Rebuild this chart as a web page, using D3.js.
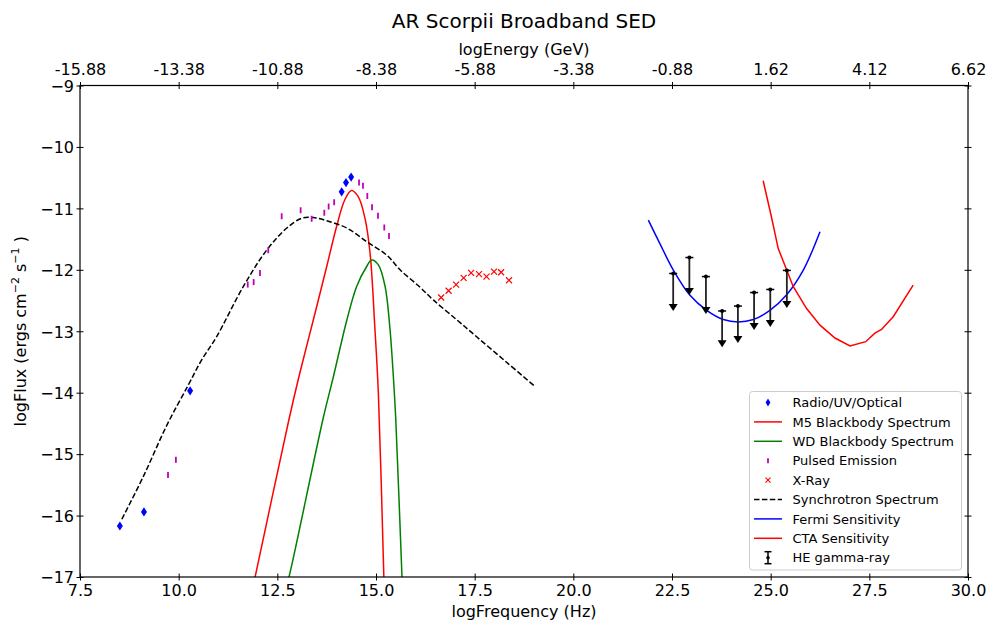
<!DOCTYPE html>
<html>
<head>
<meta charset="utf-8">
<script src="https://cdn.jsdelivr.net/npm/d3@7"></script>
<style>
  body { margin: 0; background: #fff; }
  text { font-family: "DejaVu Sans", sans-serif; }
</style>
</head>
<body>
<div id="chart"></div>
<script>
// ---- data ----
var radio_x = [8.51, 9.12, 10.29, 14.13, 14.24, 14.37];
var radio_y = [-16.17, -15.94, -13.97, -10.73, -10.58, -10.49];

var pulsed_x = [9.73, 9.93, 11.75, 11.90, 12.06, 12.27, 12.61, 13.09, 13.37, 13.69, 13.80, 13.94, 14.57, 14.67, 14.78, 14.90, 15.05, 15.21, 15.33];
var pulsed_y = [-15.34, -15.09, -12.24, -12.20, -12.05, -11.68, -11.13, -11.03, -11.17, -11.07, -10.97, -10.90, -10.58, -10.63, -10.80, -10.98, -11.12, -11.31, -11.45];

var xray_x = [16.65, 16.84, 17.03, 17.22, 17.41, 17.61, 17.80, 17.99, 18.17, 18.37];
var xray_y = [-12.45, -12.34, -12.24, -12.13, -12.05, -12.07, -12.11, -12.03, -12.04, -12.17];

var m5_x = [11.80, 11.93, 12.80, 13.07, 13.41, 13.75, 14.00, 14.21, 14.38, 14.55, 14.72, 14.85, 14.97, 15.06, 15.20, 15.22];
var m5_y = [-17.40, -17.02, -14.42, -13.68, -12.82, -11.95, -11.30, -10.86, -10.71, -10.81, -11.16, -11.73, -12.93, -14.01, -17.02, -17.40];

var wd_x = [12.67, 12.80, 13.66, 13.92, 14.26, 14.51, 14.76, 14.89, 15.06, 15.23, 15.35, 15.44, 15.50, 15.66, 15.68];
var wd_y = [-17.30, -16.99, -14.42, -13.74, -12.82, -12.27, -11.95, -11.84, -11.92, -12.27, -12.93, -13.74, -14.42, -17.02, -17.30];

var sync_x = [8.56, 9.10, 9.70, 10.24, 10.58, 10.96, 11.64, 12.23, 12.74, 13.12, 13.41, 13.75, 14.26, 14.76, 15.27, 15.61, 16.11, 16.45, 17.04, 17.55, 18.30, 19.03];
var sync_y = [-16.06, -15.37, -14.53, -13.88, -13.47, -13.09, -12.27, -11.68, -11.32, -11.16, -11.15, -11.20, -11.32, -11.54, -11.76, -12.00, -12.28, -12.49, -12.81, -13.09, -13.50, -13.90];

var fermi_x = [21.90, 22.19, 22.53, 22.95, 23.38, 23.80, 24.18, 24.56, 24.98, 25.40, 25.83, 26.25];
var fermi_y = [-11.19, -11.57, -12.00, -12.41, -12.66, -12.81, -12.85, -12.81, -12.66, -12.41, -12.00, -11.38];

var cta_x = [24.81, 25.02, 25.19, 25.57, 25.91, 26.25, 26.63, 27.01, 27.41, 27.64, 27.81, 28.11, 28.61];
var cta_y = [-10.55, -11.14, -11.65, -12.27, -12.63, -12.90, -13.11, -13.24, -13.17, -13.03, -12.97, -12.76, -12.25];

var he_x    = [22.53, 22.94, 23.36, 23.77, 24.17, 24.58, 24.99, 25.41];
var he_y    = [-12.06, -11.80, -12.11, -12.67, -12.59, -12.37, -12.32, -12.01];
var he_low  = [-12.67, -12.41, -12.72, -13.26, -13.19, -12.98, -12.93, -12.62];

var x_ticks = [7.5, 10.0, 12.5, 15.0, 17.5, 20.0, 22.5, 25.0, 27.5, 30.0];
var top_labels = ['-15.88', '-13.38', '-10.88', '-8.38', '-5.88', '-3.38', '-0.88', '1.62', '4.12', '6.62'];
var y_ticks = [-9, -10, -11, -12, -13, -14, -15, -16, -17];

var legend_labels = ['Radio/UV/Optical', 'M5 Blackbody Spectrum', 'WD Blackbody Spectrum', 'Pulsed Emission',
	'X-Ray', 'Synchrotron Spectrum', 'Fermi Sensitivity', 'CTA Sensitivity', 'HE gamma-ray'];

// ---- layout ----
var chart_width  = 990;
var chart_height = 626;
var plot_left = 80, plot_right = 968, plot_top = 85.5, plot_bottom = 577;

var svg = d3.select('#chart')
	.append('svg')
	.attr('width', chart_width)
	.attr('height', chart_height);

var x_scale = d3.scaleLinear().domain([7.5, 30]).range([plot_left, plot_right]);
var y_scale = d3.scaleLinear().domain([-17, -9]).range([plot_bottom, plot_top]);

svg.append('clipPath').attr('id', 'clip')
	.append('rect')
	.attr('x', plot_left).attr('y', plot_top)
	.attr('width', plot_right - plot_left).attr('height', plot_bottom - plot_top);

var plot = svg.append('g').attr('clip-path', 'url(#clip)');

function pairs(xs, ys) {
	return xs.map(function(d, i){ return [d, ys[i]]; });
}

function draw_line(xs, ys, color, dash, curve) {
	var line = d3.line()
		.x(function(d){ return x_scale(d[0]); })
		.y(function(d){ return y_scale(d[1]); })
		.curve(curve || d3.curveLinear);
	plot.append('path')
		.datum(pairs(xs, ys))
		.attr('d', line)
		.attr('fill', 'none')
		.attr('stroke', color)
		.attr('stroke-width', 1.5)
		.attr('stroke-dasharray', dash || null);
}

var smooth = d3.curveCatmullRom.alpha(0.5);
draw_line(m5_x, m5_y, '#ff0000', null, smooth);
draw_line(wd_x, wd_y, '#008000', null, smooth);
draw_line(sync_x, sync_y, '#000000', '5.5,2.4', smooth);
draw_line(fermi_x, fermi_y, '#0000ff', null, smooth);
draw_line(cta_x, cta_y, '#ff0000');

// radio diamonds
var diamond = 'M0,-4.6L3,0L0,4.6L-3,0Z';
plot.selectAll('.radio')
	.data(pairs(radio_x, radio_y))
	.enter()
	.append('path')
	.attr('class', 'radio')
	.attr('d', diamond)
	.attr('transform', function(d){ return 'translate(' + x_scale(d[0]) + ',' + y_scale(d[1]) + ')'; })
	.attr('fill', '#0000ff');

// pulsed emission '|' markers
plot.selectAll('.pulsed')
	.data(pairs(pulsed_x, pulsed_y))
	.enter()
	.append('line')
	.attr('class', 'pulsed')
	.attr('x1', function(d){ return x_scale(d[0]); })
	.attr('x2', function(d){ return x_scale(d[0]); })
	.attr('y1', function(d){ return y_scale(d[1]) - 3; })
	.attr('y2', function(d){ return y_scale(d[1]) + 3; })
	.attr('stroke', '#bf00bf')
	.attr('stroke-width', 1.8);

// x-ray 'x' markers
var cross = 'M-3,-3L3,3M-3,3L3,-3';
plot.selectAll('.xray')
	.data(pairs(xray_x, xray_y))
	.enter()
	.append('path')
	.attr('class', 'xray')
	.attr('d', cross)
	.attr('transform', function(d){ return 'translate(' + x_scale(d[0]) + ',' + y_scale(d[1]) + ')'; })
	.attr('stroke', '#ff0000')
	.attr('stroke-width', 1.2)
	.attr('fill', 'none');

// HE gamma-ray upper limits
var he = plot.selectAll('.he')
	.data(he_x.map(function(d, i){ return { x: d, y: he_y[i], low: he_low[i] }; }))
	.enter()
	.append('g')
	.attr('class', 'he');

he.append('line')
	.attr('x1', function(d){ return x_scale(d.x); })
	.attr('x2', function(d){ return x_scale(d.x); })
	.attr('y1', function(d){ return y_scale(d.y); })
	.attr('y2', function(d){ return y_scale(d.low) - 4; })
	.attr('stroke', '#222')
	.attr('stroke-width', 1.8);
he.append('line')
	.attr('x1', function(d){ return x_scale(d.x) - 4; })
	.attr('x2', function(d){ return x_scale(d.x) + 4; })
	.attr('y1', function(d){ return y_scale(d.y); })
	.attr('y2', function(d){ return y_scale(d.y); })
	.attr('stroke', '#000')
	.attr('stroke-width', 1.5);
he.append('circle')
	.attr('cx', function(d){ return x_scale(d.x); })
	.attr('cy', function(d){ return y_scale(d.y); })
	.attr('r', 2)
	.attr('fill', '#000');
he.append('path')
	.attr('d', function(d){
		var px = x_scale(d.x), py = y_scale(d.low);
		return 'M' + (px - 4.5) + ',' + (py - 7) + 'L' + (px + 4.5) + ',' + (py - 7) + 'L' + px + ',' + py + 'Z';
	})
	.attr('fill', '#000');

// ---- axes ----
function inout(g, horizontal) {
	g.selectAll('.tick line')
		.attr(horizontal ? 'y1' : 'x1', -3.5)
		.attr(horizontal ? 'y2' : 'x2', 3.5)
		.attr('stroke', '#000')
		.attr('stroke-width', 1);
	g.select('.domain').remove();
	g.selectAll('text').attr('font-family', '"DejaVu Sans", sans-serif').attr('font-size', 16).attr('fill', '#000');
}

var x_axis_bottom = svg.append('g')
	.attr('transform', 'translate(0,' + plot_bottom + ')')
	.call(d3.axisBottom(x_scale).tickValues(x_ticks).tickFormat(d3.format('.1f')).tickSizeOuter(0));
inout(x_axis_bottom, true);
x_axis_bottom.selectAll('text').attr('y', 8).attr('dy', '0.71em');

var x_axis_top = svg.append('g')
	.attr('transform', 'translate(0,' + plot_top + ')')
	.call(d3.axisTop(x_scale).tickValues(x_ticks).tickFormat(function(d, i){ return top_labels[i]; }).tickSizeOuter(0));
inout(x_axis_top, true);
x_axis_top.selectAll('text').attr('y', -10.5).attr('dy', '0');

var y_axis_left = svg.append('g')
	.attr('transform', 'translate(' + plot_left + ',0)')
	.call(d3.axisLeft(y_scale).tickValues(y_ticks).tickFormat(function(d){ return '\u2212' + Math.abs(d); }).tickSizeOuter(0));
inout(y_axis_left, false);
y_axis_left.selectAll('text').attr('x', -6).attr('dy', '0.36em');

var y_axis_right = svg.append('g')
	.attr('transform', 'translate(' + plot_right + ',0)')
	.call(d3.axisRight(y_scale).tickValues(y_ticks).tickFormat('').tickSizeOuter(0));
inout(y_axis_right, false);

svg.append('rect')
	.attr('x', plot_left).attr('y', plot_top)
	.attr('width', plot_right - plot_left).attr('height', plot_bottom - plot_top)
	.attr('fill', 'none')
	.attr('stroke', '#000')
	.attr('stroke-width', 1.2);

// ---- titles ----
svg.append('text')
	.attr('x', (plot_left + plot_right) / 2).attr('y', 28)
	.attr('text-anchor', 'middle').attr('font-size', 20)
	.text('AR Scorpii Broadband SED');

svg.append('text')
	.attr('x', (plot_left + plot_right) / 2).attr('y', 55)
	.attr('text-anchor', 'middle').attr('font-size', 16)
	.text('logEnergy (GeV)');

svg.append('text')
	.attr('x', (plot_left + plot_right) / 2).attr('y', 617)
	.attr('text-anchor', 'middle').attr('font-size', 16)
	.text('logFrequency (Hz)');

var ylab = svg.append('text')
	.attr('transform', 'translate(26,' + ((plot_top + plot_bottom) / 2) + ') rotate(-90)')
	.attr('text-anchor', 'middle').attr('font-size', 16);
ylab.append('tspan').text('logFlux (ergs cm');
ylab.append('tspan').attr('font-size', 11).attr('dy', -7).text('\u22122');
ylab.append('tspan').attr('dy', 7).text(' s');
ylab.append('tspan').attr('font-size', 11).attr('dy', -7).text('\u22121');
ylab.append('tspan').attr('dy', 7).text(' )');

// ---- legend ----
var lg = svg.append('g').attr('transform', 'translate(749.5,391.5)');
lg.append('rect')
	.attr('width', 212).attr('height', 178.5)
	.attr('rx', 3)
	.attr('fill', '#fff')
	.attr('fill-opacity', 0.8)
	.attr('stroke', '#cccccc');

var row = lg.selectAll('.row')
	.data(legend_labels)
	.enter()
	.append('g')
	.attr('class', 'row')
	.attr('transform', function(d, i){ return 'translate(0,' + (11 + i * 19.4) + ')'; });

row.append('text')
	.attr('x', 43).attr('dy', '0.36em')
	.attr('font-size', 13)
	.text(function(d){ return d; });

var hx = 18.5;
var handles = row.append('g').attr('transform', 'translate(' + hx + ',0)');
handles.each(function(d, i){
	var h = d3.select(this);
	if (i === 0) {
		h.append('path').attr('d', 'M0,-4L2.4,0L0,4L-2.4,0Z').attr('fill', '#0000ff');
	} else if (i === 3) {
		h.append('line').attr('y1', -2.5).attr('y2', 2.5).attr('stroke', '#bf00bf').attr('stroke-width', 1.8);
	} else if (i === 4) {
		h.append('path').attr('d', 'M-2.5,-2.5L2.5,2.5M-2.5,2.5L2.5,-2.5').attr('stroke', '#ff0000').attr('stroke-width', 1.1);
	} else if (i === 8) {
		h.append('line').attr('y1', -6).attr('y2', 6).attr('stroke', '#000').attr('stroke-width', 1.5);
		h.append('line').attr('x1', -3.5).attr('x2', 3.5).attr('y1', -6).attr('y2', -6).attr('stroke', '#000').attr('stroke-width', 1.5);
		h.append('line').attr('x1', -3.5).attr('x2', 3.5).attr('y1', 6).attr('y2', 6).attr('stroke', '#000').attr('stroke-width', 1.5);
		h.append('circle').attr('r', 1.8).attr('fill', '#000');
	} else {
		var colors = { 1: '#ff0000', 2: '#008000', 5: '#000000', 6: '#0000ff', 7: '#ff0000' };
		h.append('line').attr('x1', -14).attr('x2', 14)
			.attr('stroke', colors[i]).attr('stroke-width', 1.5)
			.attr('stroke-dasharray', i === 5 ? '5.5,2.4' : null);
	}
});
</script>
</body>
</html>
